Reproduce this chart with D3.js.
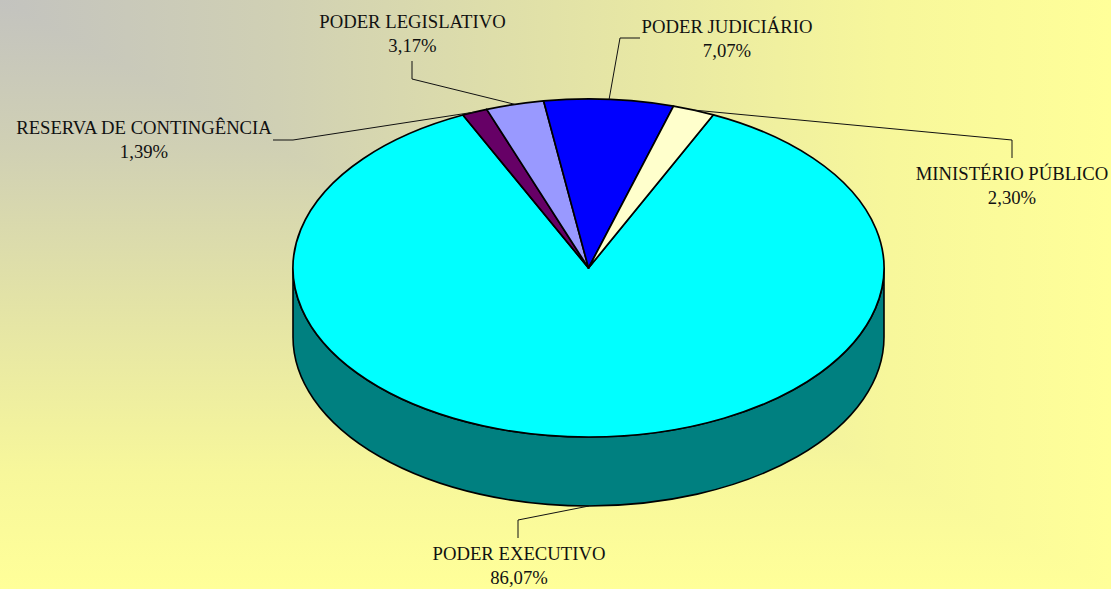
<!DOCTYPE html>
<html><head><meta charset="utf-8">
<script src="https://cdn.jsdelivr.net/npm/d3@7"></script>
<style>html,body{margin:0;padding:0;overflow:hidden;background:#ffff99}svg{display:block}text{font-family:"Liberation Serif","Times New Roman",serif;font-size:18.7px;fill:#111}</style>
</head><body><svg id="c" width="1111" height="589"></svg>
<script>
const categories=["PODER EXECUTIVO","RESERVA DE CONTINGÊNCIA","PODER LEGISLATIVO","PODER JUDICIÁRIO","MINISTÉRIO PÚBLICO"];
const seriesValues=[86.07,1.39,3.17,7.07,2.30];
const valueLabels=["86,07%","1,39%","3,17%","7,07%","2,30%"];
const sliceColors=["#00ffff","#660066","#9999ff","#0000ff","#ffffcc"];
const wallColor="#008080";
const W=1111,H=589,cx=588.5,cy=268,rx=295.5,ry=169,depth=69;
const startDeg=25.0;
const labelLayout=[
 {x:519,y:560,elbow:[[518,538],[518,520]],wall:true},
 {x:144,y:134,elbow:[[273,140],[293,140]]},
 {x:412.5,y:27.5,elbow:[[412,61],[412,79]]},
 {x:727,y:32.5,elbow:[[640,38],[620,38]]},
 {x:1012,y:180,elbow:[[1012,158],[1012,140]]}
];
const svg=d3.select("#c");
const defs=svg.append("defs");
const bgStops=[[0,"#c3c3bf"],[0.25,"#d0d0b4"],[0.5,"#e2e2a7"],[0.8,"#f7f79b"],[1,"#ffff99"]];
function grad(id,x2,y2){
 defs.append("linearGradient").attr("id",id).attr("gradientUnits","userSpaceOnUse")
  .attr("x1",0).attr("y1",0).attr("x2",x2).attr("y2",y2)
  .selectAll("stop").data(bgStops).join("stop")
  .attr("offset",d=>d[0]).attr("stop-color",d=>d[1]);
}
grad("bgx",W,0);grad("bgy",0,H);
svg.append("rect").attr("width",W).attr("height",H).attr("fill","url(#bgx)");
svg.append("path").attr("d",`M0,0L${W},${H}L0,${H}Z`).attr("fill","url(#bgy)");

const pie=d3.pie().sort(null).startAngle(startDeg*Math.PI/180).endAngle((startDeg+360)*Math.PI/180);
const arcs=pie(seriesValues);
const arc=d3.arc().innerRadius(0).outerRadius(rx);
const ratio=ry/rx;
const px=a=>cx+rx*Math.sin(a), py=a=>cy-ry*Math.cos(a);

// side wall
svg.append("path")
 .attr("d",`M${cx-rx},${cy}A${rx},${ry} 0 0 0 ${cx+rx},${cy}L${cx+rx},${cy+depth}A${rx},${ry} 0 0 1 ${cx-rx},${cy+depth}Z`)
 .attr("fill",wallColor).attr("stroke","#000").attr("stroke-width",1.6);

// top
svg.append("g").attr("transform",`translate(${cx},${cy}) scale(1,${ratio})`)
 .selectAll("path").data(arcs).join("path")
 .attr("d",arc).attr("fill",(d,i)=>sliceColors[i])
 .attr("stroke","#000").attr("stroke-width",1.7).attr("stroke-linejoin","round")
 .attr("vector-effect","non-scaling-stroke");

// leaders
const line=d3.line();
svg.append("g").selectAll("path").data(arcs).join("path")
 .attr("d",(d,i)=>{
   const m=(d.startAngle+d.endAngle)/2, L=labelLayout[i];
   return line([...L.elbow,[px(m),py(m)+(L.wall?depth:0)]]);
 }).attr("fill","none").attr("stroke","#111").attr("stroke-width",1);

// labels
const t=svg.append("g").selectAll("text").data(categories).join("text")
 .attr("text-anchor","middle").attr("y",(d,i)=>labelLayout[i].y);
t.append("tspan").attr("x",(d,i)=>labelLayout[i].x).text(d=>d);
t.append("tspan").attr("x",(d,i)=>labelLayout[i].x).attr("dy",24).text((d,i)=>valueLabels[i]);
</script></body></html>
